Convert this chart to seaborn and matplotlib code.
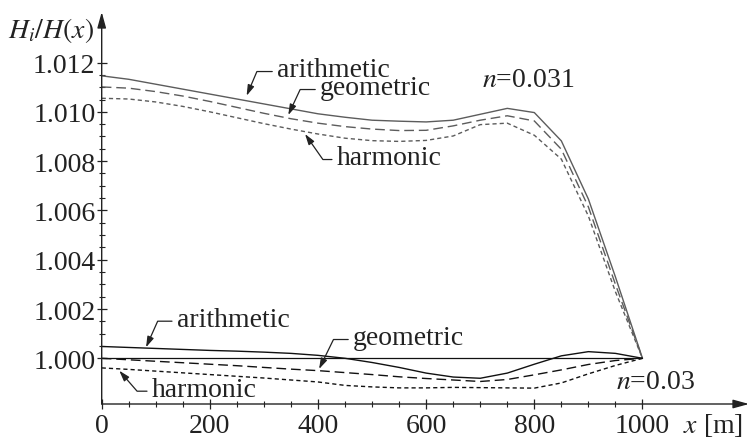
import pandas as pd
import seaborn as sns
import matplotlib.pyplot as plt
from matplotlib.ticker import FixedLocator

sns.set_theme(style="ticks")
plt.rcParams['font.family'] = ['Liberation Serif', 'DejaVu Serif']
plt.rcParams['mathtext.fontset'] = 'stix'

# distance along channel [m]
x_m = list(range(0, 1001, 50))

# n = 0.031
arith_031 = [1.01146, 1.01132, 1.01112, 1.01092, 1.01072, 1.01052, 1.01032, 1.01012, 1.00992,
             1.00978, 1.00966, 1.00962, 1.00959, 1.00966, 1.00990, 1.01014, 1.00997, 1.00882,
             1.00646, 1.00330, 1.00000]
geo_031 = [1.01101, 1.01096, 1.01082, 1.01064, 1.01042, 1.01018, 1.00994, 1.00972, 1.00954,
           1.00940, 1.00930, 1.00924, 1.00925, 1.00943, 1.00966, 1.00984, 1.00963, 1.00848,
           1.00614, 1.00300, 1.00000]
harm_031 = [1.01055, 1.01052, 1.01040, 1.01022, 1.01000, 1.00976, 1.00952, 1.00930, 1.00910,
            1.00893, 1.00883, 1.00880, 1.00884, 1.00902, 1.00948, 1.00954, 1.00905, 1.00808,
            1.00577, 1.00270, 1.00000]

# n = 0.03
arith_03 = [1.00048, 1.00044, 1.00040, 1.00036, 1.00032, 1.00029, 1.00025, 1.00020, 1.00012,
            1.00000, 0.99983, 0.99963, 0.99940, 0.99924, 0.99919, 0.99940, 0.99976, 1.00010,
            1.00027, 1.00020, 1.00000]
geo_03 = [1.00000, 0.99994, 0.99988, 0.99982, 0.99976, 0.99970, 0.99963, 0.99956, 0.99950,
          0.99942, 0.99934, 0.99925, 0.99918, 0.99912, 0.99906, 0.99914, 0.99933, 0.99953,
          0.99975, 0.99991, 1.00000]
harm_03 = [0.99961, 0.99955, 0.99948, 0.99941, 0.99934, 0.99927, 0.99920, 0.99912, 0.99904,
           0.99890, 0.99884, 0.99880, 0.99880, 0.99882, 0.99881, 0.99880, 0.99879, 0.99900,
           0.99937, 0.99971, 1.00000]

x_ticks = [0, 200, 400, 600, 800, 1000]
y_ticks = [1.000, 1.002, 1.004, 1.006, 1.008, 1.010, 1.012]

# labels: (text, text x, text baseline y, arrow x, arrow y, angle of arrow leg)
labels = [
    ("arithmetic", 324, 1.011452, 268, 1.010653, 67),
    ("geometric", 403.5, 1.010722, 345, 1.009870, 65),
    ("harmonic", 434.4, 1.007882, 376, 1.009100, -55),
    ("arithmetic", 138.6, 1.001323, 82, 1.000446, 66),
    ("geometric", 464.5, 1.000580, 402, 0.999566, 64),
    ("harmonic", 92.4, 0.998483, 32.5, 0.999497, -49),
]

rows = []
for n, series in [("0.031", [arith_031, geo_031, harm_031]), ("0.03", [arith_03, geo_03, harm_03])]:
    for name, vals in zip(["arithmetic", "geometric", "harmonic"], series):
        for xi, v in zip(x_m, vals):
            rows.append({"x": xi, "ratio": v, "mean": name, "n": n})
df = pd.DataFrame(rows)

fs = 20
ink = "#222222"

fig = plt.figure(figsize=(7.5, 4.39), dpi=100)
ax = fig.add_axes([101.7 / 750, 34 / 439, (749 - 101.7) / 750, (405 - 13) / 439])

ax.hlines(1.0, x_m[0], x_m[-1], color="#111111", lw=0.9)
sns.lineplot(data=df, x="x", y="ratio", hue="n", style="mean",
             palette={"0.031": "#5c5c5c", "0.03": "#111111"},
             dashes={"arithmetic": "", "geometric": (7, 3.5), "harmonic": (3, 2.2)},
             linewidth=1.0, legend=False, errorbar=None, ax=ax)

ax.set_xlim(0, 1197)
ax.set_ylim(0.998146, 1.01405)
ax.xaxis.set_major_locator(FixedLocator(x_ticks))
ax.xaxis.set_minor_locator(FixedLocator([v for v in x_m if v not in x_ticks]))
ax.yaxis.set_major_locator(FixedLocator(y_ticks))
ax.yaxis.set_minor_locator(FixedLocator([1.0005 + 0.0005 * i for i in range(23) if (i + 1) % 4 != 0]))
ax.set_xticklabels([str(v) for v in x_ticks])
ax.set_yticklabels([f"{v:.3f}" for v in y_ticks])
ax.tick_params(which="major", direction="inout", length=7, width=0.9, labelsize=fs,
               color=ink, labelcolor=ink)
ax.tick_params(axis="x", which="major", pad=3)
ax.tick_params(axis="y", which="major", pad=1)
ax.tick_params(which="minor", direction="inout", length=4, width=0.8, color=ink)
ax.set_xlabel("")
ax.set_ylabel("")

for s in ["top", "right", "left", "bottom"]:
    ax.spines[s].set_visible(False)
for tip in [(1, 0), (0, 1)]:
    ax.annotate("", xy=tip, xytext=(0, 0), xycoords="axes fraction", textcoords="axes fraction",
                arrowprops=dict(arrowstyle="-|>,head_length=0.8,head_width=0.22", color=ink,
                                lw=1.0, shrinkA=0, shrinkB=0))

for txt, tx, ty, ax_x, ax_y, ang in labels:
    ax.annotate(txt, xy=(ax_x, ax_y), xytext=(tx, ty), ha="left", va="baseline",
                fontsize=fs, color=ink,
                arrowprops=dict(arrowstyle="-|>,head_length=0.32,head_width=0.1",
                                color=ink, lw=0.9, shrinkA=1, shrinkB=0,
                                relpos=(0, 0.42),
                                connectionstyle=f"angle,angleA=0,angleB={ang},rad=0"))

ax.text(702.4, 1.011034, r"$n$=0.031", fontsize=fs, color=ink, ha="left", va="baseline")
ax.text(951.9, 0.998783, r"$n$=0.03", fontsize=fs, color=ink, ha="left", va="baseline")

fig.text(8 / 750, 1 - 38 / 439, r"$H_i/H(x)$", fontsize=fs, color=ink, ha="left", va="baseline")
fig.text(683 / 750, 1 - 433 / 439, r"$x$ [m]", fontsize=fs, color=ink, ha="left", va="baseline")

fig.savefig("out.png", dpi=100)
